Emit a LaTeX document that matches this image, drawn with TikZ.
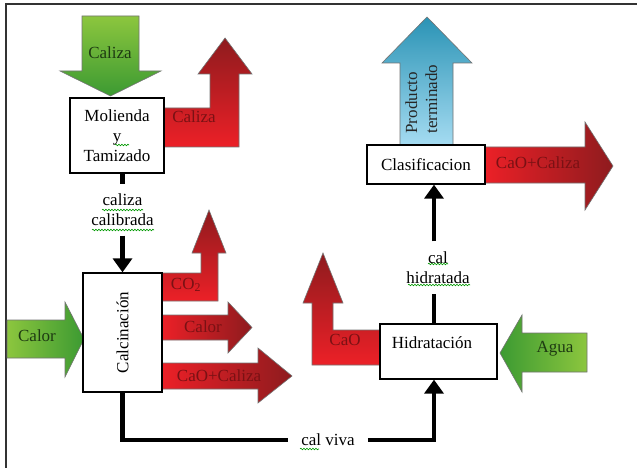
\documentclass[tikz,border=0pt]{standalone}
\usepackage{fontspec}
\setmainfont{Liberation Serif}
\usetikzlibrary{arrows.meta,decorations.pathmorphing}
\definecolor{redA}{HTML}{EC2027}
\definecolor{redB}{HTML}{8E1B1E}
\definecolor{greenA}{HTML}{8CC63E}
\definecolor{greenB}{HTML}{3C9A32}
\definecolor{blueA}{HTML}{A6DCF2}
\definecolor{blueB}{HTML}{2A93B5}
\definecolor{redtxt}{HTML}{7A1114}
\definecolor{greentxt}{HTML}{1E3A12}
\begin{document}
\begin{tikzpicture}[x=1pt,y=-1pt,
  font=\fontsize{17}{20}\selectfont,
  box/.style={draw=black,fill=white,line width=1.3pt,inner sep=0pt,align=center},
  outl/.style={draw=black!55,line width=0.6pt},
  redH/.style={outl,left color=redA,right color=redB},
  redV/.style={outl,bottom color=redA,middle color=redA,top color=redB},
  grnR/.style={outl,left color=greenA,right color=greenB},
  grnL/.style={outl,left color=greenB,right color=greenA},
  grnD/.style={outl,top color=greenA,bottom color=greenB},
  bluU/.style={outl,bottom color=blueA,top color=blueB},
  rtxt/.style={text=redtxt,inner sep=0pt},
  gtxt/.style={text=greentxt,inner sep=0pt},
  lbl/.style={align=center,inner xsep=2pt},
  conn/.style={line width=4.5pt,black,line join=miter},
  tip/.style={-{Triangle[length=14pt,width=19pt]}},
  squig/.style={draw=green!60!black,line width=0.6pt,decorate,decoration={snake,amplitude=0.8pt,segment length=3pt}}
]
\useasboundingbox (0,0) rectangle (637,468);
\fill[white] (0,0) rectangle (637,468);
% frame
\draw[black!80,line width=1.6pt] (637,4) -- (6,4) -- (6,468);

% ---- arrows (shaded shapes)
% green Caliza (down)
\draw[grnD] (82,16) -- (139,16) -- (139,71) -- (161,71) -- (110.5,96) -- (60,71) -- (82,71) -- cycle;
\node[gtxt] (tcal1) at (110,53) {Caliza};
% red L Caliza (up)
\draw[redV] (161,108) -- (210,108) -- (210,74) -- (198,74) -- (225,38) -- (252,74) -- (239,74) -- (239,147) -- (161,147) -- cycle;
\node[rtxt] (tcal2) at (194,117) {Caliza};
% blue Producto terminado
\draw[bluU] (400,146) -- (400,63) -- (382,63) -- (427,17) -- (472,63) -- (453,63) -- (453,146) -- cycle;
\node[inner sep=0pt,text=black!85] (tprod) at (423,99) {\rotatebox{90}{\begin{tabular}{@{}l@{}}Producto\\terminado\end{tabular}}};
% red CaO+Caliza (top right)
\draw[redH] (484,147) -- (585,147) -- (585,122) -- (613,166) -- (585,210) -- (585,183) -- (484,183) -- cycle;
\node[rtxt] (tcc1) at (538,163) {CaO+Caliza};
% green Calor (in)
\draw[grnR] (7,320) -- (65,320) -- (65,302) -- (84,339) -- (65,377) -- (65,358) -- (7,358) -- cycle;
\node[gtxt] (tcalor1) at (37,336) {Calor};
% red L CO2 (up)
\draw[redV] (161,273) -- (201,273) -- (201,253) -- (192,253) -- (209,210) -- (226,253) -- (218,253) -- (218,301) -- (161,301) -- cycle;
\node[rtxt] (tco2) at (186,285) {CO\textsubscript{2}};
% red Calor (out)
\draw[redH] (161,315) -- (228,315) -- (228,302) -- (252,327.5) -- (228,353) -- (228,340) -- (161,340) -- cycle;
\node[rtxt] (tcalor2) at (203,327) {Calor};
% red CaO+Caliza (middle)
\draw[redH] (161,363) -- (258,363) -- (258,348) -- (292,376) -- (258,403) -- (258,389) -- (161,389) -- cycle;
\node[rtxt] (tcc2) at (219,376) {CaO+Caliza};
% red L CaO (up)
\draw[redV] (381,330) -- (333,330) -- (333,303) -- (343,303) -- (323,253) -- (303,303) -- (312,303) -- (312,365) -- (381,365) -- cycle;
\node[rtxt] (tcao) at (345,340) {CaO};
% green Agua (left)
\draw[grnL] (587,333) -- (522,333) -- (522,315) -- (500,353) -- (522,392) -- (522,372) -- (587,372) -- cycle;
\node[gtxt] (tagua) at (555,349) {Agua};

% ---- process boxes
\node[box,minimum width=94pt,minimum height=75pt] (mol) at (117,135.5) {Molienda\\y\\Tamizado};
\node[box,minimum width=79pt,minimum height=119pt] (calc) at (122.5,332.5) {\rotatebox{90}{Calcinación}};
\node[box,minimum width=118pt,minimum height=39pt] (clas) at (426,164.5) {Clasificacion};
\node[box,minimum width=117pt,minimum height=55pt] (hidr) at (438.5,351.5) {};
\node[inner sep=0pt] (hidrtxt) at (432,343) {Hidratación};

% ---- connector labels
\node[lbl,inner ysep=9.5pt] (lblcc) at (122.5,210) {caliza\\calibrada};
\node[lbl,inner ysep=2pt,inner xsep=13pt] (lblcv) at (328,440) {cal viva};
\node[lbl,inner ysep=10pt] (lblch) at (438,267.5) {cal\\hidratada};
\coordinate (hx) at (434,0);

% ---- connectors
\draw[conn] (lblcc.north |- mol.south) -- (lblcc.north);
\draw[conn,tip] (lblcc.south) -- (lblcc.south |- calc.north);
\draw[conn] (calc.south) |- (lblcv.west);
\draw[conn,tip] (lblcv.east) -| (hx |- hidr.south);
\draw[conn] (hx |- hidr.north) -- (hx |- lblch.south);
\draw[conn,tip] (hx |- lblch.north) -- (hx |- clas.south);

% ---- spell-check underlines
\draw[squig] (115,145) -- (129,145);
\draw[squig] (102,210) -- (143,210);
\draw[squig] (92,230) -- (154,230);
\draw[squig] (428,264) -- (448,264);
\draw[squig] (408,285) -- (470,285);
\draw[squig] (300,449) -- (319,449);
\end{tikzpicture}
\end{document}
